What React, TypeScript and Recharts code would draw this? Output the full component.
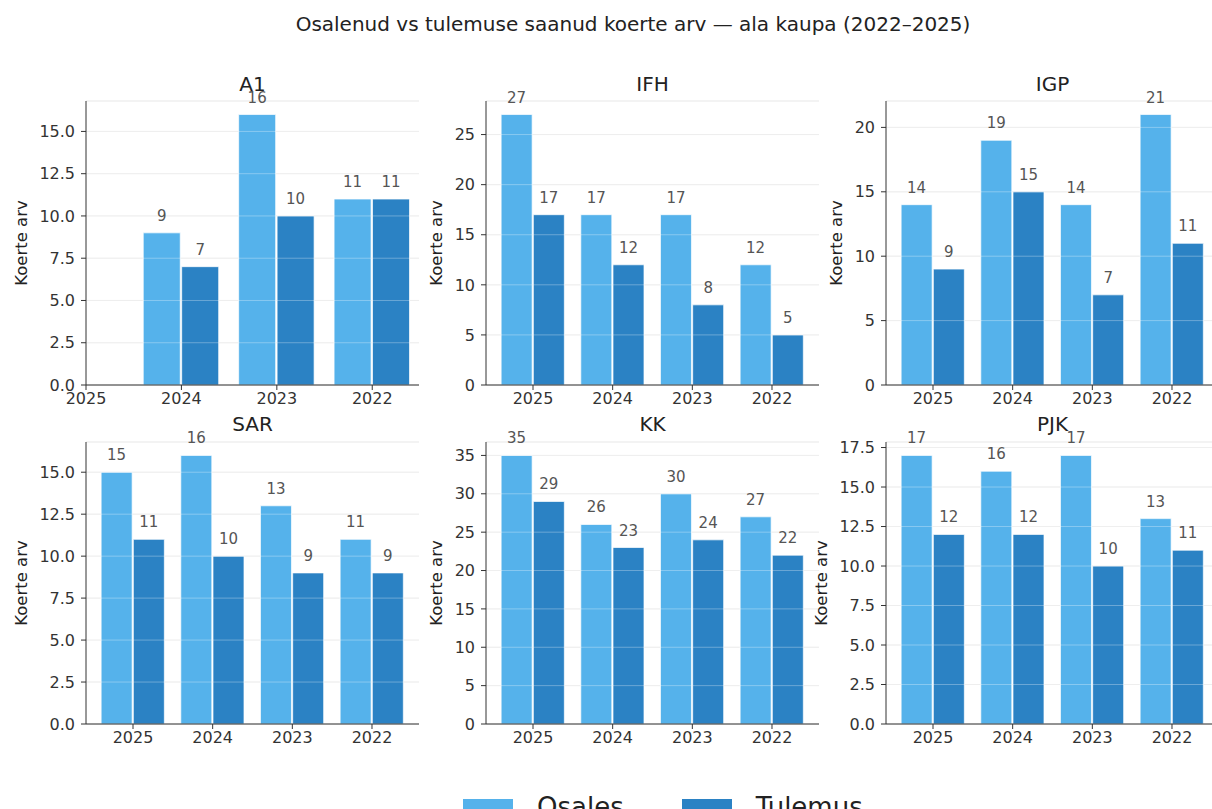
import React from "react";
import { BarChart, Bar, XAxis, YAxis, CartesianGrid, LabelList, ReferenceLine } from "recharts";

// --- data ---
const years = ["2025", "2024", "2023", "2022"];

const a1Osales = [null, 9, 16, 11];
const a1Tulemus = [null, 7, 10, 11];
const ifhOsales = [27, 17, 17, 12];
const ifhTulemus = [17, 12, 8, 5];
const igpOsales = [14, 19, 14, 21];
const igpTulemus = [9, 15, 7, 11];
const sarOsales = [15, 16, 13, 11];
const sarTulemus = [11, 10, 9, 9];
const kkOsales = [35, 26, 30, 27];
const kkTulemus = [29, 23, 24, 22];
const pjkOsales = [17, 16, 17, 13];
const pjkTulemus = [12, 12, 10, 11];

const ticksHalf = [0, 2.5, 5, 7.5, 10, 12.5, 15];
const ticksPjk = [0, 2.5, 5, 7.5, 10, 12.5, 15, 17.5];
const ticksIfh = [0, 5, 10, 15, 20, 25];
const ticksIgp = [0, 5, 10, 15, 20];
const ticksKk = [0, 5, 10, 15, 20, 25, 30, 35];

const OSALES = "#55B2EB";
const TULEMUS = "#2B82C4";
const FONT = "'DejaVu Sans', Verdana, sans-serif";

type Panel = {
  name: string;
  osales: (number | null)[];
  tulemus: (number | null)[];
  yTicks: number[];
  decimals: number;
  xDomain: [number, number];
};

const panels: Panel[] = [
  { name: "A1", osales: a1Osales, tulemus: a1Tulemus, yTicks: ticksHalf, decimals: 1, xDomain: [0, 3.49] },
  { name: "IFH", osales: ifhOsales, tulemus: ifhTulemus, yTicks: ticksIfh, decimals: 0, xDomain: [-0.59, 3.59] },
  { name: "IGP", osales: igpOsales, tulemus: igpTulemus, yTicks: ticksIgp, decimals: 0, xDomain: [-0.59, 3.59] },
  { name: "SAR", osales: sarOsales, tulemus: sarTulemus, yTicks: ticksHalf, decimals: 1, xDomain: [-0.59, 3.59] },
  { name: "KK", osales: kkOsales, tulemus: kkTulemus, yTicks: ticksKk, decimals: 0, xDomain: [-0.59, 3.59] },
  { name: "PJK", osales: pjkOsales, tulemus: pjkTulemus, yTicks: ticksPjk, decimals: 1, xDomain: [-0.59, 3.59] },
];

// layout of the 3x2 grid (plot-area positions)
const plotLefts = [86, 486, 886];
const plotW = 333;
const yAxisW = 86;
const rows = [
  { top: 60, marginTop: 41, plotH: 284, titleY: 84 },
  { top: 400, marginTop: 42, plotH: 282, titleY: 424 },
];

function PanelChart({ p, col, row }: { p: Panel; col: number; row: number }) {
  const r = rows[row];
  const data = years.map((y, i) => ({ x: i, year: y, osales: p.osales[i], tulemus: p.tulemus[i] }));
  const maxVal = Math.max(...p.osales.map((v) => v ?? 0), ...p.tulemus.map((v) => v ?? 0));
  const labelOffset = p.decimals ? 21 : 36;
  const chartW = yAxisW + plotW + 5;
  const chartH = r.marginTop + r.plotH + 30;
  const fmtLabel = (v: any) => (v == null ? "" : String(v));

  return (
    <>
      <div
        style={{
          position: "absolute",
          left: plotLefts[col],
          width: plotW,
          top: r.titleY - 10,
          textAlign: "center",
          fontSize: 20,
          lineHeight: 1,
          color: "#222",
          pointerEvents: "none",
          zIndex: 2,
        }}
      >
        {p.name}
      </div>
      <div style={{ position: "absolute", left: plotLefts[col] - yAxisW, top: r.top }}>
        <BarChart
          width={chartW}
          height={chartH}
          data={data}
          margin={{ top: r.marginTop, right: 5, bottom: 0, left: 0 }}
          barCategoryGap="10%"
          barGap="1.5%"
        >
          <CartesianGrid vertical={false} stroke="#b0b0b0" strokeOpacity={0.3} />
          <XAxis
            type="number"
            dataKey="x"
            domain={p.xDomain}
            ticks={[0, 1, 2, 3]}
            allowDataOverflow
            tickFormatter={(i: number) => years[i]}
            height={30}
            tickSize={5}
            tickMargin={3}
            stroke="#333"
            tick={{ fill: "#333", fontSize: 16, fontFamily: FONT }}
            interval={0}
          />
          <YAxis
            type="number"
            domain={[0, maxVal * 1.05]}
            ticks={p.yTicks}
            allowDataOverflow
            width={yAxisW}
            tickSize={5}
            tickMargin={6}
            stroke="#333"
            tick={{ fill: "#333", fontSize: 16, fontFamily: FONT }}
            tickFormatter={(v: number) => v.toFixed(p.decimals)}
            label={{
              value: "Koerte arv",
              angle: -90,
              position: "insideLeft",
              offset: labelOffset,
              style: { textAnchor: "middle", fontSize: 16.5, fill: "#222", fontFamily: FONT },
            }}
          />
          <Bar dataKey="osales" fill={OSALES} stroke="#fff" strokeWidth={0.7} isAnimationActive={false}>
            <LabelList
              dataKey="osales"
              position="top"
              offset={12}
              formatter={fmtLabel}
              style={{ fill: "#555", fontSize: 15, fontFamily: FONT }}
            />
          </Bar>
          <Bar dataKey="tulemus" fill={TULEMUS} stroke="#fff" strokeWidth={0.7} isAnimationActive={false}>
            <LabelList
              dataKey="tulemus"
              position="top"
              offset={12}
              formatter={fmtLabel}
              style={{ fill: "#555", fontSize: 15, fontFamily: FONT }}
            />
          </Bar>
          {/* faint grid lines showing across the bars */}
          {p.yTicks.slice(1).map((t) => (
            <ReferenceLine key={t} y={t} stroke="#ffffff" strokeOpacity={0.3} ifOverflow="hidden" />
          ))}
        </BarChart>
      </div>
    </>
  );
}

export default function App() {
  return (
    <div
      style={{
        position: "relative",
        width: 1212,
        height: 809,
        overflow: "hidden",
        background: "#fff",
        fontFamily: FONT,
      }}
    >
      <style>{"body{margin:0}"}</style>
      <div
        style={{
          position: "absolute",
          left: 0,
          width: 1266,
          top: 14,
          textAlign: "center",
          fontSize: 20,
          lineHeight: 1,
          color: "#222",
        }}
      >
        Osalenud vs tulemuse saanud koerte arv — ala kaupa (2022–2025)
      </div>

      {panels.map((p, i) => (
        <PanelChart key={p.name} p={p} col={i % 3} row={Math.floor(i / 3)} />
      ))}

      {/* legend (cut off by the bottom edge, as in the reference) */}
      <div
        style={{
          position: "absolute",
          left: 463,
          top: 794,
          display: "flex",
          alignItems: "flex-start",
          fontSize: 26,
          lineHeight: 1,
          color: "#222",
        }}
      >
        <span style={{ width: 50, height: 18, background: OSALES, marginTop: 5 }} />
        <span style={{ marginLeft: 24 }}>Osales</span>
        <span style={{ width: 50, height: 18, background: TULEMUS, marginTop: 5, marginLeft: 58 }} />
        <span style={{ marginLeft: 24 }}>Tulemus</span>
      </div>
    </div>
  );
}
